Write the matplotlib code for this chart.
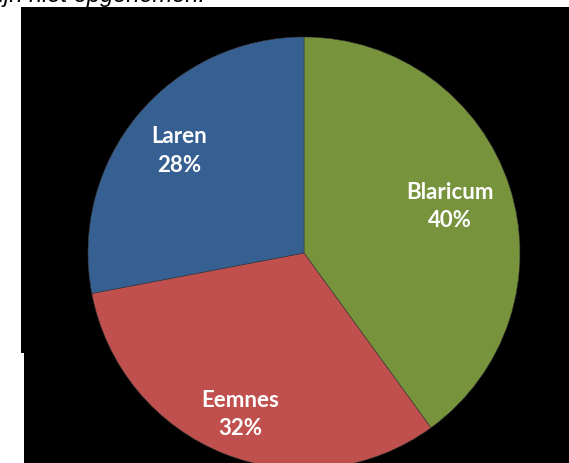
import matplotlib.pyplot as plt
import numpy as np
from matplotlib.patches import Rectangle

# gemeenten en aandeel
names = ["Blaricum", "Eemnes", "Laren"]
shares = [40, 32, 28]
colours = ["#77933C", "#C0504D", "#376092"]
label_r = [0.71, 0.80, 0.75]

W, H = 569, 464
fig = plt.figure(figsize=(W / 100, H / 100), dpi=100)
fig.patch.set_facecolor("white")

# zwarte achtergrond (met klein wit stukje links onder)
fig.add_artist(Rectangle((21 / W, 0), 1 - 21 / W, (H - 8) / H, zorder=-2,
                         transform=fig.transFigure, facecolor="black", lw=0))
fig.add_artist(Rectangle((0, 0), 24 / W, 110 / H, zorder=-1,
                         transform=fig.transFigure, facecolor="white", lw=0))

# afgesneden tekst bovenaan
fig.text(-13 / W, (H - 2) / H, "zijn niet opgenomen.", fontsize=17,
         style="italic", family="Liberation Sans", va="baseline", ha="left")

cx, cy, R = 304, H - 254, 216
ax = fig.add_axes([(cx - R) / W, (cy - R) / H, 2 * R / W, 2 * R / H])
ax.set_facecolor("none")
wedges, _ = ax.pie(shares, colors=colours, startangle=90, counterclock=False,
                   radius=1, wedgeprops=dict(linewidth=0.4, edgecolor="#3a3a3a"))
ax.set_xlim(-1, 1)
ax.set_ylim(-1, 1)
ax.set_axis_off()

for w, name, s, r in zip(wedges, names, shares, label_r):
    ang = np.deg2rad((w.theta1 + w.theta2) / 2)
    ax.text(r * np.cos(ang), r * np.sin(ang), f"{name}\n{s}%", ha="center",
            va="center", color="white", fontsize=16, fontweight="bold",
            family="Lato", linespacing=1.45)

fig.savefig("out.png", dpi=100)
